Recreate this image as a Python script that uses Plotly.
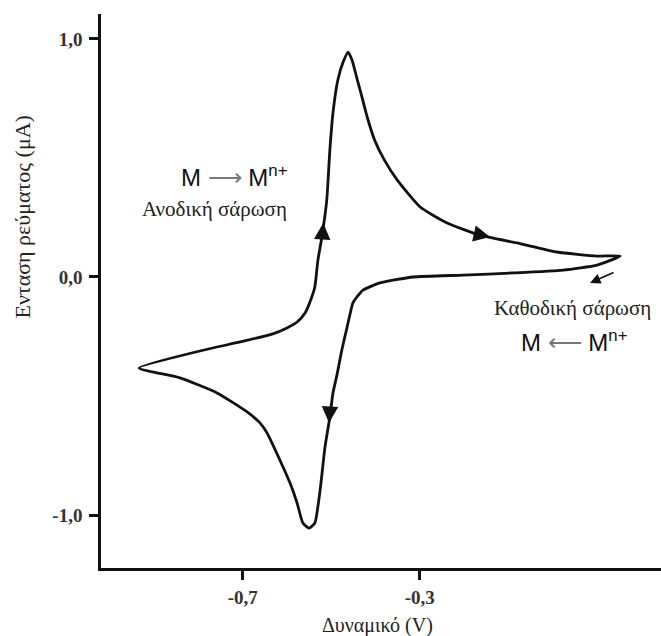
import plotly.graph_objects as go

# Cyclic voltammogram (potential in V, current in µA), traced in scan order
potential = [-0.934, -0.797, -0.706, -0.632, -0.600, -0.577, -0.559, -0.548, -0.537, -0.530,
             -0.521, -0.510, -0.503, -0.496, -0.485, -0.473, -0.462, -0.453, -0.442, -0.431,
             -0.418, -0.402, -0.380, -0.351, -0.299, -0.238, -0.164, -0.080, 0.010, 0.101, 0.153,
             0.101, 0.024, -0.089, -0.202, -0.315, -0.390, -0.428, -0.442, -0.451, -0.464,
             -0.476, -0.487, -0.496, -0.503, -0.514, -0.525, -0.537, -0.550, -0.564, -0.577,
             -0.593, -0.616, -0.645, -0.661, -0.690, -0.758, -0.842, -0.934]
current = [-0.382, -0.311, -0.273, -0.239, -0.214, -0.189, -0.151, -0.105, -0.042, 0.071,
           0.168, 0.324, 0.534, 0.689, 0.828, 0.903, 0.945, 0.912, 0.836, 0.760,
           0.668, 0.576, 0.492, 0.408, 0.294, 0.227, 0.176, 0.143, 0.105, 0.088, 0.088,
           0.050, 0.029, 0.017, 0.008, 0.000, -0.025, -0.055, -0.084, -0.109, -0.210,
           -0.307, -0.412, -0.487, -0.588, -0.714, -0.895, -1.034, -1.055, -1.034, -0.950,
           -0.866, -0.769, -0.655, -0.613, -0.567, -0.487, -0.424, -0.382]

x_tickvals = [-0.7, -0.3]
x_ticktext = ["-0,7", "-0,3"]
y_tickvals = [1.0, 0.0, -1.0]
y_ticktext = ["1,0", "0,0", "-1,0"]

# scan-direction arrows (tip position on the curve)
arrow_v = [-0.518, -0.505, -0.141, 0.085]
arrow_i = [0.227, -0.613, 0.168, -0.025]

SERIF = "Liberation Serif, Times New Roman, serif"
SANS = "Liberation Sans, Arial, sans-serif"

fig = go.Figure()
fig.add_trace(go.Scatter(
    x=potential, y=current, mode="lines",
    line=dict(color="#111111", width=2.8, shape="spline", smoothing=0.5),
    hoverinfo="skip", showlegend=False))

annotations = []
# arrows along the curve: (ax, ay) offsets in pixels define direction
arrow_offsets = [(-1, 16), (1, -16), (-18, -4), (25, -11)]
arrow_widths = [2.2, 2.2, 2.2, 1.6]
arrow_sizes = [1.5, 1.5, 1.5, 1.3]
for v, i, (ax, ay), w, s in zip(arrow_v, arrow_i, arrow_offsets, arrow_widths, arrow_sizes):
    annotations.append(dict(x=v, y=i, xref="x", yref="y", ax=ax, ay=ay,
                            showarrow=True, arrowhead=2, arrowsize=s, arrowwidth=w,
                            arrowcolor="#111111", text=""))

annotations += [
    dict(x=-0.720, y=0.424, xref="x", yref="y", showarrow=False,
         text="M <span style='color:#777777'>⟶</span> M<sup>n+</sup>",
         font=dict(family=SANS, size=24, color="#111111")),
    dict(x=-0.763, y=0.286, xref="x", yref="y", showarrow=False,
         text="Ανοδική σάρωση", font=dict(family=SERIF, size=21, color="#222222")),
    dict(x=0.045, y=-0.130, xref="x", yref="y", showarrow=False,
         text="Καθοδική σάρωση", font=dict(family=SERIF, size=21, color="#222222")),
    dict(x=0.049, y=-0.269, xref="x", yref="y", showarrow=False,
         text="M <span style='color:#777777'>⟵</span> M<sup>n+</sup>",
         font=dict(family=SANS, size=24, color="#111111")),
    dict(x=0.4946, y=-0.103, xref="paper", yref="paper", showarrow=False,
         xanchor="center", yanchor="middle",
         text="Δυναμικό (V)", font=dict(family=SERIF, size=20, color="#222222")),
    dict(x=-0.141, y=0.6327, xref="paper", yref="paper", showarrow=False, textangle=-90,
         xanchor="center", yanchor="middle",
         text="Ενταση ρεύματος (μA)", font=dict(family=SERIF, size=22, color="#222222")),
]

fig.update_layout(
    width=661, height=636, autosize=False,
    margin=dict(l=101, r=0, t=14, b=68),
    paper_bgcolor="white", plot_bgcolor="white",
    showlegend=False,
    annotations=annotations,
    xaxis=dict(range=[-1.0202, 0.2453], showgrid=False, zeroline=False,
               showline=True, linecolor="#111111", linewidth=2.5,
               ticks="outside", ticklen=9, tickwidth=3, tickcolor="#111111",
               tickvals=x_tickvals, ticktext=["<b>%s</b>" % t for t in x_ticktext],
               ticklabelstandoff=1,
               tickfont=dict(family=SERIF, size=19, color="#333333")),
    yaxis=dict(range=[-1.2227, 1.105], showgrid=False, zeroline=False,
               showline=True, linecolor="#111111", linewidth=2.5,
               ticks="outside", ticklen=9, tickwidth=3, tickcolor="#111111",
               tickvals=y_tickvals, ticktext=["<b>%s</b>" % t for t in y_ticktext],
               ticklabelstandoff=3,
               tickfont=dict(family=SERIF, size=19, color="#333333")),
)

fig.write_html("out.html", config={"displayModeBar": False},
               post_script="document.body.style.margin='0';document.body.style.overflow='hidden';")
